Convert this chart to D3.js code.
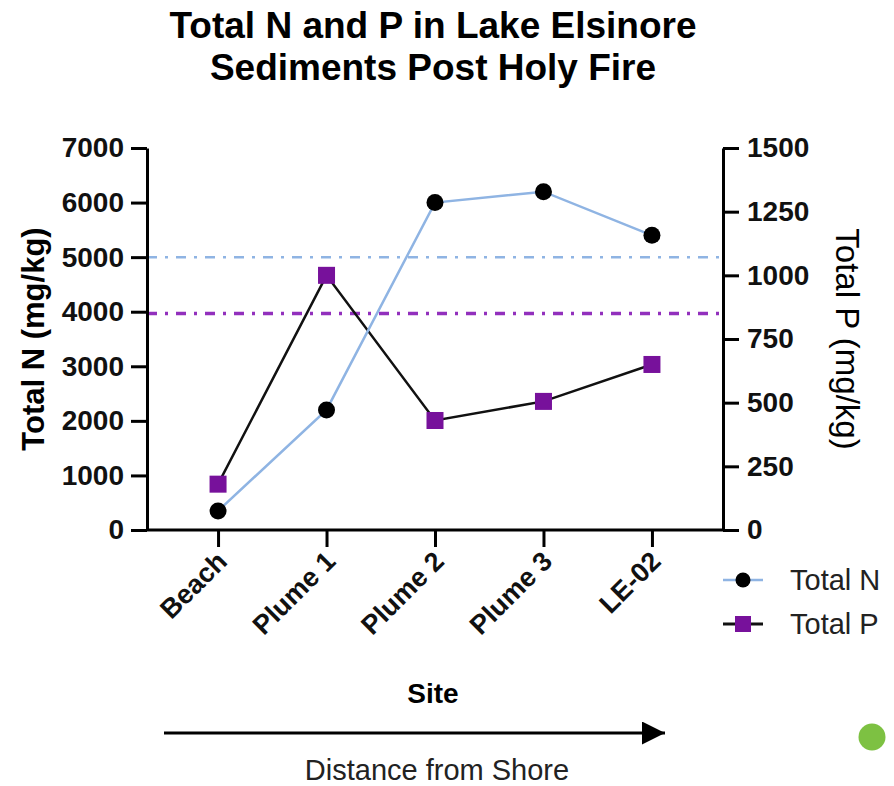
<!DOCTYPE html>
<html>
<head>
<meta charset="utf-8">
<script src="https://cdn.jsdelivr.net/npm/d3@7"></script>
<style>
  body { margin: 0; background: #fff; }
  svg { display: block; font-family: "Liberation Sans", Arial, sans-serif; }
</style>
</head>
<body>
<svg id="chart"></svg>
<script>
// data
const sites = ["Beach", "Plume 1", "Plume 2", "Plume 3", "LE-02"];
const totalN = [350, 2200, 6000, 6200, 5400];   // mg/kg, left axis
const totalP = [180, 1000, 430, 505, 650];      // mg/kg, right axis
const nTicks = [0, 1000, 2000, 3000, 4000, 5000, 6000, 7000];
const pTicks = [0, 250, 500, 750, 1000, 1250, 1500];
const nLimit = 5000;   // blue dash-dot reference line (N)
const pLimit = 850;    // purple dash-dot reference line (P)

const width = 894, height = 786;
const marginLeft = 147, marginRight = 171, marginTop = 148, marginBottom = 256;

const blue = "#8fb4e3", purple = "#77119b", purpleDash = "#9230bd";

const svg = d3.select("#chart")
    .attr("width", width)
    .attr("height", height)
    .attr("viewBox", [0, 0, width, height]);

const x = d3.scalePoint(sites, [marginLeft, width - marginRight]).padding(0.655);
const yN = d3.scaleLinear([0, 7000], [height - marginBottom, marginTop]);
const yP = d3.scaleLinear([0, 1500], [height - marginBottom, marginTop]);

// title
svg.append("g")
    .attr("font-weight", "bold")
    .attr("font-size", 37)
    .attr("text-anchor", "middle")
  .selectAll("text")
  .data(["Total N and P in Lake Elsinore", "Sediments Post Holy Fire"])
  .join("text")
    .attr("x", 433)
    .attr("y", (d, i) => 38 + i * 42)
    .text(d => d);

// reference lines
svg.append("line")
    .attr("x1", marginLeft).attr("x2", width - marginRight)
    .attr("y1", yN(nLimit)).attr("y2", yN(nLimit))
    .attr("stroke", blue).attr("stroke-width", 2.5)
    .attr("stroke-dasharray", "10,8,3,8");
svg.append("line")
    .attr("x1", marginLeft).attr("x2", width - marginRight)
    .attr("y1", yP(pLimit)).attr("y2", yP(pLimit))
    .attr("stroke", purpleDash).attr("stroke-width", 3.5)
    .attr("stroke-dasharray", "10,8,3,8");

// axes
function styleAxis(g) {
  g.select(".domain").attr("stroke-width", 3);
  g.selectAll(".tick line").attr("stroke-width", 3);
  g.selectAll(".tick text").attr("fill", "#111");
}

svg.append("g")
    .attr("transform", `translate(${marginLeft},0)`)
    .call(d3.axisLeft(yN).tickValues(nTicks).tickFormat(d3.format("d"))
        .tickSize(16).tickSizeOuter(0).tickPadding(7))
    .call(styleAxis)
    .call(g => g.selectAll(".tick text").attr("font-size", 28).attr("font-weight", "bold"));

svg.append("g")
    .attr("transform", `translate(${width - marginRight},0)`)
    .call(d3.axisRight(yP).tickValues(pTicks).tickFormat(d3.format("d"))
        .tickSize(16).tickSizeOuter(0).tickPadding(8))
    .call(styleAxis)
    .call(g => g.selectAll(".tick text").attr("font-size", 28).attr("font-weight", "bold"));

svg.append("g")
    .attr("transform", `translate(0,${height - marginBottom})`)
    .call(d3.axisBottom(x).tickSize(17).tickSizeOuter(0))
    .call(g => g.select(".domain").attr("d", `M${marginLeft},0H${width - marginRight}`))
    .call(styleAxis)
    .call(g => g.selectAll(".tick text")
        .attr("font-size", 27)
        .attr("font-weight", "bold")
        .attr("text-anchor", "end")
        .attr("dy", null)
        .attr("y", 0)
        .attr("transform", "translate(10,33) rotate(-45)"));

// axis titles
svg.append("text")
    .attr("transform", `translate(44,${(marginTop + height - marginBottom) / 2}) rotate(-90)`)
    .attr("text-anchor", "middle")
    .attr("font-size", 31)
    .attr("font-weight", "bold")
    .text("Total N (mg/kg)");

svg.append("text")
    .attr("transform", `translate(836,${(marginTop + height - marginBottom) / 2}) rotate(90)`)
    .attr("text-anchor", "middle")
    .attr("font-size", 33)
    .text("Total P (mg/kg)");

svg.append("text")
    .attr("x", 433).attr("y", 703)
    .attr("text-anchor", "middle")
    .attr("font-size", 28)
    .attr("font-weight", "bold")
    .text("Site");

// lines
const lineN = d3.line().x((d, i) => x(sites[i])).y(d => yN(d));
const lineP = d3.line().x((d, i) => x(sites[i])).y(d => yP(d));

svg.append("path")
    .attr("d", lineP(totalP))
    .attr("fill", "none").attr("stroke", "#111").attr("stroke-width", 2.5);

svg.append("path")
    .attr("d", lineN(totalN))
    .attr("fill", "none").attr("stroke", blue).attr("stroke-width", 2.5);

svg.append("g")
  .selectAll("rect")
  .data(totalP)
  .join("rect")
    .attr("x", (d, i) => x(sites[i]) - 8.5)
    .attr("y", d => yP(d) - 8.5)
    .attr("width", 17).attr("height", 17)
    .attr("fill", purple);

svg.append("g")
  .selectAll("circle")
  .data(totalN)
  .join("circle")
    .attr("cx", (d, i) => x(sites[i]))
    .attr("cy", d => yN(d))
    .attr("r", 8.5)
    .attr("fill", "#000");

// legend
const legend = svg.append("g").attr("font-size", 29).attr("fill", "#222");
const lgN = legend.append("g").attr("transform", "translate(723,580)");
lgN.append("line").attr("x2", 40).attr("stroke", blue).attr("stroke-width", 2.5);
lgN.append("circle").attr("cx", 20).attr("r", 7.5).attr("fill", "#000");
lgN.append("text").attr("x", 67).attr("y", 10).text("Total N");

const lgP = legend.append("g").attr("transform", "translate(723,624)");
lgP.append("line").attr("x2", 40).attr("stroke", "#111").attr("stroke-width", 3);
lgP.append("rect").attr("x", 12).attr("y", -8).attr("width", 16).attr("height", 16).attr("fill", purple);
lgP.append("text").attr("x", 67).attr("y", 10).text("Total P");

// distance arrow
svg.append("defs").append("marker")
    .attr("id", "arrow")
    .attr("viewBox", "0 0 10 10")
    .attr("refX", 10).attr("refY", 5)
    .attr("markerWidth", 29).attr("markerHeight", 23)
    .attr("markerUnits", "userSpaceOnUse")
    .attr("orient", "auto")
  .append("path")
    .attr("d", "M0,0L10,5L0,10Z")
    .attr("fill", "#000");

svg.append("line")
    .attr("x1", 164).attr("x2", 665)
    .attr("y1", 733).attr("y2", 733)
    .attr("stroke", "#000").attr("stroke-width", 3)
    .attr("marker-end", "url(#arrow)");

svg.append("text")
    .attr("x", 437).attr("y", 780)
    .attr("text-anchor", "middle")
    .attr("font-size", 29)
    .attr("fill", "#222")
    .text("Distance from Shore");

svg.append("circle")
    .attr("cx", 872).attr("cy", 737).attr("r", 13.5)
    .attr("fill", "#7dc142");
</script>
</body>
</html>
